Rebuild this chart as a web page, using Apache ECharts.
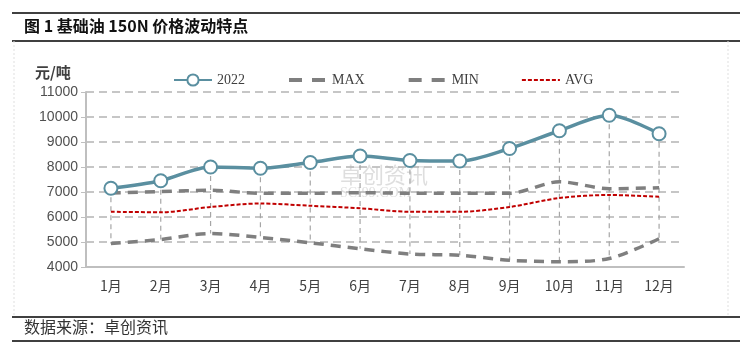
<!DOCTYPE html>
<html><head><meta charset="utf-8">
<script src="https://cdn.jsdelivr.net/npm/echarts@6/dist/echarts.min.js"></script>
<style>html,body{margin:0;padding:0;background:#fff}#c{width:744px;height:358px}</style>
</head><body><div id="c"></div>
<script>
const months = ['1月','2月','3月','4月','5月','6月','7月','8月','9月','10月','11月','12月'];
const s2022 = [7150, 7450, 8000, 7950, 8180, 8440, 8260, 8240, 8740, 9450, 10070, 9330];
const sMax  = [6960, 7020, 7070, 6950, 6950, 6970, 6950, 6950, 6950, 7410, 7130, 7170];
const sMin  = [4940, 5100, 5340, 5180, 4970, 4730, 4520, 4470, 4270, 4210, 4340, 5130];
const sAvg  = [6210, 6190, 6400, 6540, 6450, 6350, 6210, 6210, 6400, 6760, 6880, 6810];
const yTicks = {min: 4000, max: 11000, interval: 1000};

const hiLo = months.map((m, i) => [i, Math.max(s2022[i], sMax[i], sMin[i], sAvg[i]), Math.min(s2022[i], sMax[i], sMin[i], sAvg[i])]);

const chart = echarts.init(document.getElementById('c'));
const font = '"Liberation Sans","Noto Sans CJK SC",sans-serif';
const noSym = {color: 'rgba(0,0,0,0)', borderWidth: 0, opacity: 0};
chart.setOption({
  animation: false,
  backgroundColor: '#fff',
  grid: {left: 86, right: 60, top: 92, bottom: 91},
  legend: {
    data: [
      {name: '2022'},
      {name: 'MAX', itemStyle: noSym, lineStyle: {type: [13, 10], width: 4}},
      {name: 'MIN', itemStyle: noSym, lineStyle: {type: [13, 10], width: 4}},
      {name: 'AVG', itemStyle: noSym, lineStyle: {type: [4, 2], width: 2}}
    ],
    left: 168, top: 68, itemGap: 42, itemWidth: 38, itemHeight: 14,
    textStyle: {fontFamily: '"Liberation Serif","Noto Sans CJK SC",serif', fontSize: 14, color: '#404040'}
  },
  xAxis: {
    type: 'category', data: months, boundaryGap: true,
    axisLine: {lineStyle: {color: '#bfbfbf', width: 2}},
    axisTick: {show: false},
    axisLabel: {color: '#404040', fontSize: 14, margin: 12, fontFamily: '"Noto Sans CJK SC",sans-serif'}
  },
  yAxis: {
    type: 'value', min: yTicks.min, max: yTicks.max, interval: yTicks.interval,
    axisLine: {show: true, lineStyle: {color: '#bfbfbf', width: 2}},
    axisTick: {show: true, length: 5, lineStyle: {color: '#bfbfbf'}},
    axisLabel: {color: '#505050', fontSize: 14, margin: 8, fontFamily: font, formatter: v => String(v)},
    splitLine: {lineStyle: {color: '#b4b4b4', type: [8, 5], width: 1.5}}
  },
  graphic: [
    {type: 'line', shape: {x1: 12, y1: 13, x2: 740, y2: 13}, style: {stroke: '#000', lineWidth: 1.5}},
    {type: 'line', shape: {x1: 12, y1: 41, x2: 740, y2: 41}, style: {stroke: '#000', lineWidth: 1.5}},
    {type: 'line', shape: {x1: 12, y1: 317, x2: 740, y2: 317}, style: {stroke: '#000', lineWidth: 1.5}},
    {type: 'line', shape: {x1: 12, y1: 341, x2: 740, y2: 341}, style: {stroke: '#000', lineWidth: 1.5}},
    {type: 'line', shape: {x1: 14, y1: 41, x2: 14, y2: 317}, style: {stroke: '#e0e0e0', lineWidth: 1, lineDash: [2, 2]}},
    {type: 'line', shape: {x1: 728, y1: 41, x2: 728, y2: 317}, style: {stroke: '#e0e0e0', lineWidth: 1, lineDash: [2, 2]}},
    {type: 'text', left: 24, top: 18, style: {text: '图 1 基础油 150N 价格波动特点', fontSize: 16, fontWeight: 'bold', fill: '#111', fontFamily: '"Noto Sans CJK SC",sans-serif'}},
    {type: 'text', left: 24, top: 319, style: {text: '数据来源：卓创资讯', fontSize: 16, fill: '#333', fontFamily: '"Noto Sans CJK SC",sans-serif'}},
    {type: 'text', left: 35, top: 65, style: {text: '元/吨', fontSize: 15, fontWeight: 'bold', fill: '#404040', fontFamily: '"Noto Sans CJK SC",sans-serif'}},
    {type: 'text', left: 340, top: 164, z: 0, style: {text: '卓创资讯', fontSize: 22, fill: 'rgba(160,160,160,0.35)', fontFamily: '"Noto Sans CJK SC",sans-serif'}},
    {type: 'text', left: 340, top: 186, z: 0, style: {text: 'SCI99.COM', fontSize: 14, fill: 'rgba(160,160,160,0.35)', fontFamily: '"Liberation Serif",serif'}}
  ],
  series: [
    {
      type: 'custom', name: 'hilo', z: 1, silent: true,
      data: hiLo,
      renderItem: function (params, api) {
        const i = api.value(0);
        const p1 = api.coord([i, api.value(1)]);
        const p2 = api.coord([i, api.value(2)]);
        return {type: 'line', shape: {x1: p1[0], y1: p1[1], x2: p2[0], y2: p2[1]},
          style: {stroke: '#a6a6a6', lineWidth: 1.2, lineDash: [5, 4]}};
      }
    },
    {name: 'MAX', type: 'line', data: sMax, smooth: 0.3, symbol: 'none', z: 3,
      lineStyle: {color: '#7f7f7f', width: 3.5, type: [10, 7]}, itemStyle: {color: '#7f7f7f'}},
    {name: 'MIN', type: 'line', data: sMin, smooth: 0.3, symbol: 'none', z: 3,
      lineStyle: {color: '#7f7f7f', width: 3.5, type: [10, 7]}, itemStyle: {color: '#7f7f7f'}},
    {name: 'AVG', type: 'line', data: sAvg, smooth: 0.3, symbol: 'none', z: 4,
      lineStyle: {color: '#c00000', width: 2, type: [4, 2]}, itemStyle: {color: '#c00000'}},
    {name: '2022', type: 'line', data: s2022, smooth: 0.3, symbol: 'circle', symbolSize: 13, z: 5,
      lineStyle: {color: '#5a8fa0', width: 3.5},
      itemStyle: {color: '#fff', borderColor: '#5a8fa0', borderWidth: 2}}
  ]
});
</script></body></html>
